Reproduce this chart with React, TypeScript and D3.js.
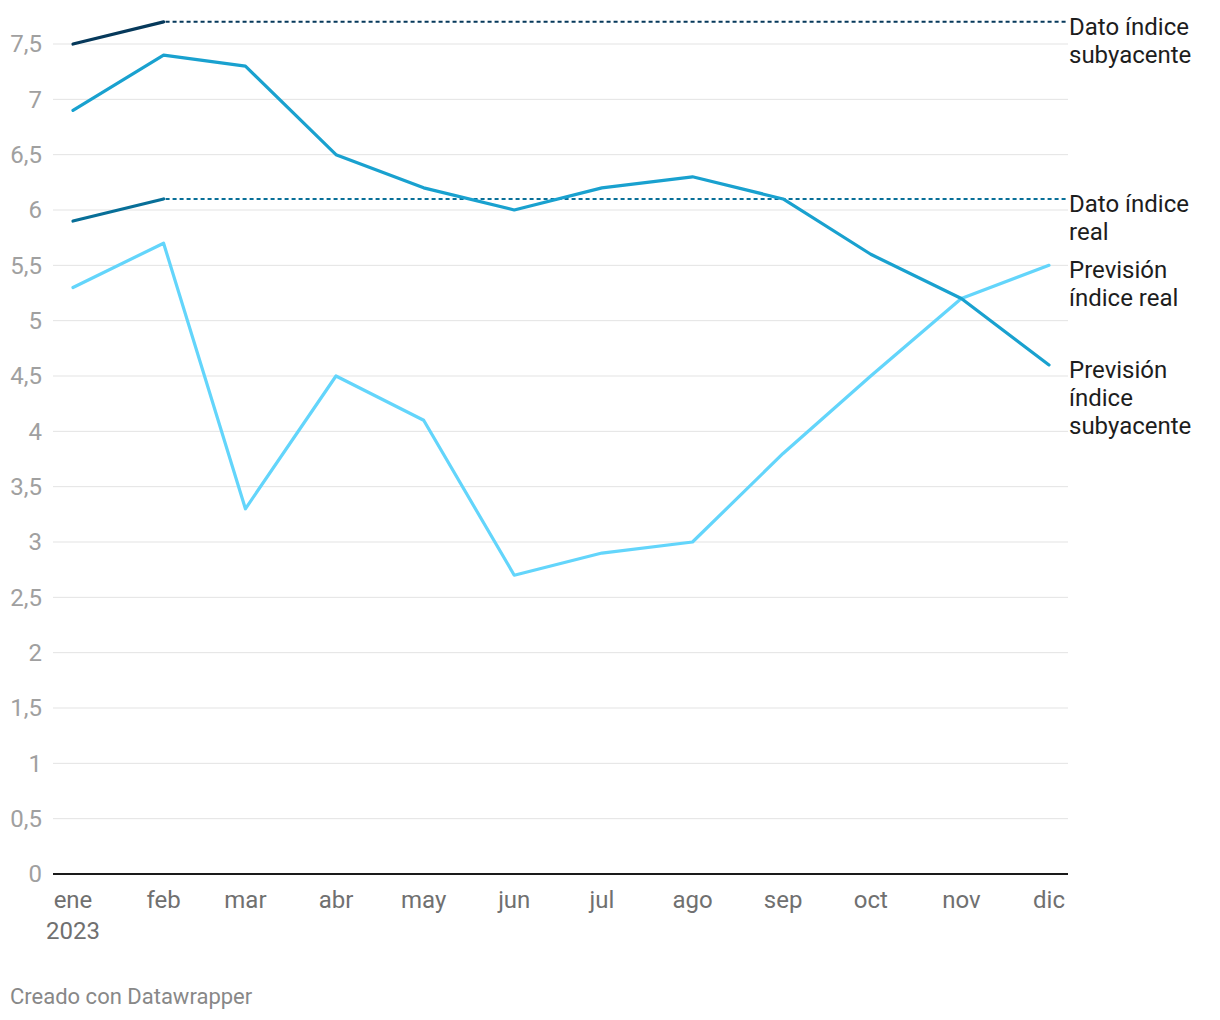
import React from "react";
import * as d3 from "d3";

const months = ["ene", "feb", "mar", "abr", "may", "jun", "jul", "ago", "sep", "oct", "nov", "dic"];
const yTicks = [0, 0.5, 1, 1.5, 2, 2.5, 3, 3.5, 4, 4.5, 5, 5.5, 6, 6.5, 7, 7.5];

const datoSubyacente = [7.5, 7.7];
const datoReal = [5.9, 6.1];
const previsionSubyacente = [6.9, 7.4, 7.3, 6.5, 6.2, 6.0, 6.2, 6.3, 6.1, 5.6, 5.2, 4.6];
const previsionReal = [5.3, 5.7, 3.3, 4.5, 4.1, 2.7, 2.9, 3.0, 3.8, 4.5, 5.2, 5.5];

const labels = [
  { lines: ["Dato índice", "subyacente"], y: 27 },
  { lines: ["Dato índice", "real"], y: 204 },
  { lines: ["Previsión", "índice real"], y: 270 },
  { lines: ["Previsión", "índice", "subyacente"], y: 370 },
];

const FONT = "Roboto, 'Noto Sans', sans-serif";

export default function App() {
  const W = 1220, H = 1020;
  const x = d3.scaleTime().domain([new Date(2023, 0, 1), new Date(2023, 11, 1)]).range([73, 1049]);
  const y = d3.scaleLinear().domain([0, 7.5]).range([874, 44]);
  const date = (i: number) => new Date(2023, i, 1);
  const line = d3.line<number>().x((_, i) => x(date(i))).y((d) => y(d));
  const left = 53, right = 1068;

  const series = [
    { data: previsionReal, color: "#63d5fb" },
    { data: previsionSubyacente, color: "#19a1cf" },
    { data: datoReal, color: "#086f98" },
    { data: datoSubyacente, color: "#06395b" },
  ];

  return (
    <svg width={W} height={H} style={{ display: "block", position: "absolute", left: 0, top: 0 }} fontFamily={FONT}>
      <rect width={W} height={H} fill="#fff" />
      {yTicks.map((t) => (
        <g key={t}>
          {t !== 0 && <line x1={left} x2={right} y1={y(t)} y2={y(t)} stroke="#e3e3e3" strokeWidth={1} />}
          <text x={42} y={y(t)} dy="0.35em" textAnchor="end" fontSize={24} fill="#a0a0a0">
            {String(t).replace(".", ",")}
          </text>
        </g>
      ))}
      <line x1={left} x2={right} y1={y(0)} y2={y(0)} stroke="#1a1a1a" strokeWidth={2} />
      {months.map((m, i) => (
        <text key={m} x={x(date(i))} y={908} textAnchor="middle" fontSize={24} fill="#707070">
          {m}
        </text>
      ))}
      <text x={x(date(0))} y={939} textAnchor="middle" fontSize={24} fill="#707070">2023</text>

      <line x1={x(date(1)) + 2} x2={right} y1={y(datoSubyacente[1])} y2={y(datoSubyacente[1])} stroke="#06395b" strokeWidth={2} strokeDasharray="4,3" />
      <line x1={x(date(1)) + 2} x2={right} y1={y(datoReal[1])} y2={y(datoReal[1])} stroke="#086f98" strokeWidth={2} strokeDasharray="4,3" />

      {series.map((s, i) => (
        <path key={i} d={line(s.data) || ""} fill="none" stroke={s.color} strokeWidth={3.2} strokeLinejoin="round" strokeLinecap="round" />
      ))}

      {labels.map((l, i) => (
        <text key={i} x={1069} fontSize={24} fill="#1d1d1d">
          {l.lines.map((ln, j) => (
            <tspan key={j} x={1069} y={l.y + j * 28} dy="0.35em">{ln}</tspan>
          ))}
        </text>
      ))}

      <text x={10} y={1004} fontSize={22} fill="#888">Creado con Datawrapper</text>
    </svg>
  );
}
